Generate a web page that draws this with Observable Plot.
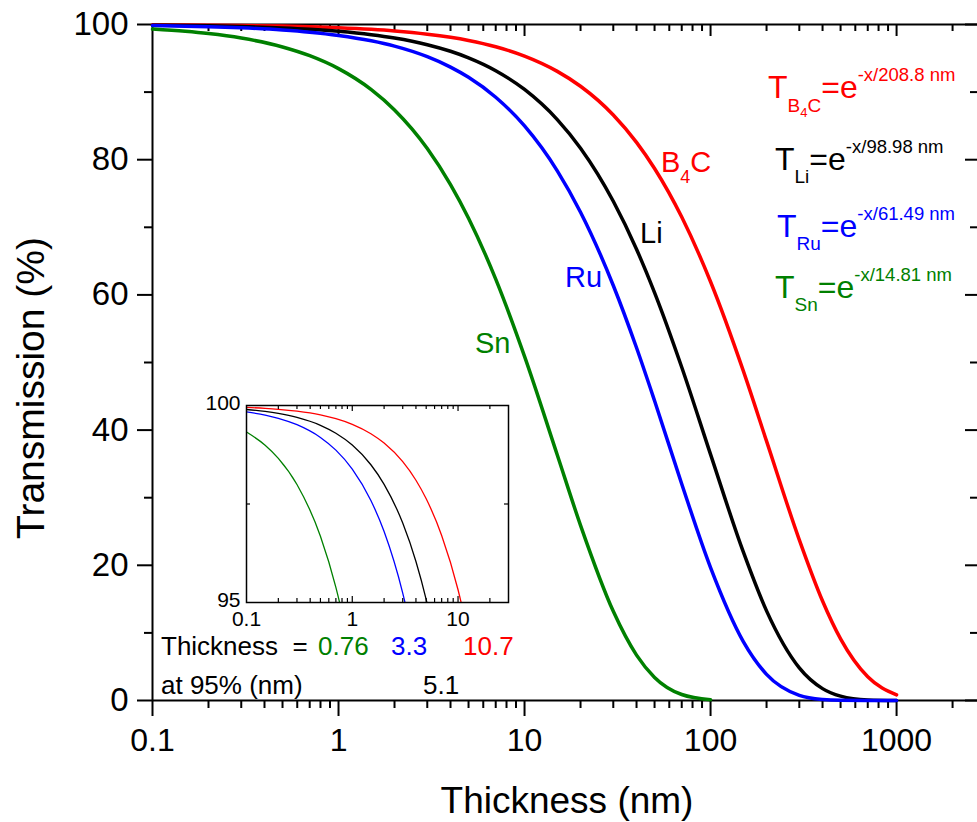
<!DOCTYPE html>
<html><head><meta charset="utf-8">
<script src="https://cdn.jsdelivr.net/npm/d3@7"></script>
<script src="https://cdn.jsdelivr.net/npm/@observablehq/plot@0.6"></script>
<style>
body{margin:0;background:#fff;}
#wrap{position:relative;width:977px;height:822px;overflow:hidden;font-family:"Liberation Sans",Arial,sans-serif;}
#wrap svg{position:absolute;left:0;top:0;}
</style></head><body><div id="wrap"></div>
<script>
// ---- data ----
const thickness = [0.1, 0.15, 0.2, 0.3, 0.5, 0.7, 1, 1.5, 2, 3, 4, 5, 7, 10, 15, 20, 30, 40, 50, 70, 100, 150, 200, 300, 400, 500, 700, 1000];
const tB4C = [99.952, 99.928, 99.904, 99.856, 99.761, 99.665, 99.522, 99.284, 99.047, 98.574, 98.103, 97.633, 96.702, 95.323, 93.067, 90.867, 86.617, 82.566, 78.705, 71.516, 61.946, 48.756, 38.372, 23.770, 14.726, 9.121, 3.500, 0.832];
const tLi  = [99.899, 99.849, 99.798, 99.697, 99.496, 99.295, 98.995, 98.496, 98.000, 97.015, 96.040, 95.074, 93.172, 90.390, 85.938, 81.704, 73.850, 66.756, 60.343, 49.303, 36.412, 21.972, 13.259, 4.828, 1.758, 0.640, 0.085, 0.004];
const tRu  = [99.838, 99.756, 99.675, 99.513, 99.190, 98.868, 98.387, 97.590, 96.800, 95.238, 93.702, 92.190, 89.240, 84.991, 78.353, 72.232, 61.394, 52.177, 44.345, 32.036, 19.668, 8.721, 3.869, 0.761, 0.150, 0.029, 0.001, 0.000];
const tSn  = [99.327, 98.992, 98.659, 97.995, 96.680, 95.383, 93.471, 90.368, 87.368, 81.663, 76.331, 71.351, 62.332, 50.905, 36.320, 25.914, 13.192, 6.715, 3.418, 0.886, 0.117];
const materials = ["B4C", "Li", "Ru", "Sn"];
const colors = ["#ff0000", "#000000", "#0000ff", "#008000"];
const decayLengths = ["208.8", "98.98", "61.49", "14.81"];
const subLabels = [["B","4","C"], ["Li"], ["Ru"], ["Sn"]];
const thick95 = ["10.7", "5.1", "3.3", "0.76"];
const majorX = [0.1, 1, 10, 100, 1000];
const minorX = [0.2,0.3,0.4,0.5,0.6,0.7,0.8,0.9, 2,3,4,5,6,7,8,9, 20,30,40,50,60,70,80,90, 200,300,400,500,600,700,800,900, 2000];
const majorY = [0, 20, 40, 60, 80, 100];
const minorY = [10, 30, 50, 70, 90];
const insetMajorX = [0.1, 1, 10];
const insetMinorX = [0.2,0.3,0.4,0.5,0.6,0.7,0.8,0.9, 2,3,4,5,6,7,8,9, 20];
const insetMajorY = [95, 100];
const insetMinorY = [97.5];

const series = [tB4C, tLi, tRu, tSn];
const rows = [];
materials.forEach((m, i) => series[i].forEach((v, j) => rows.push({material: m, x: thickness[j], t: v})));

const FONT = "Liberation Sans, Arial, sans-serif";
const W = 977, H = 822, mL = 152, mT = 24, mR = 0, mB = 122;
const fW = W - mL - mR, fH = H - mT - mB;

const main = Plot.plot({
  width: W, height: H, marginLeft: mL, marginTop: mT, marginRight: mR, marginBottom: mB,
  style: {fontFamily: FONT, fontSize: "32px", color: "#000", background: "transparent", overflow: "visible"},
  x: {type: "log", domain: [0.1, 2723]},
  y: {domain: [0, 100]},
  color: {domain: materials, range: colors},
  marks: [
    Plot.ruleY([0], {strokeWidth: 2}),
    Plot.ruleY([100], {strokeWidth: 2}),
    Plot.ruleX([0.1], {strokeWidth: 2}),
    Plot.axisX(majorX, {tickSize: 16, tickPadding: 12, strokeWidth: 2, fontSize: 32, tickFormat: d => String(d), label: null}),
    Plot.axisX(minorX, {tickSize: 8, strokeWidth: 2, tickFormat: () => "", label: null}),
    Plot.axisY(majorY, {tickSize: 15, tickPadding: 9, strokeWidth: 2, fontSize: 33, label: null}),
    Plot.axisY(minorY, {tickSize: 8, strokeWidth: 2, tickFormat: () => "", label: null}),
    Plot.ruleX(majorX.slice(1), {strokeWidth: 2, insetBottom: fH - 12}),
    Plot.ruleX(minorX, {strokeWidth: 2, insetBottom: fH - 7}),
    Plot.ruleY(majorY, {strokeWidth: 2, insetLeft: fW - 12}),
    Plot.ruleY(minorY, {strokeWidth: 2, insetLeft: fW - 7}),
    Plot.line(rows, {x: "x", y: "t", z: "material", stroke: "material", strokeWidth: 3.5, curve: "monotone-x"})
  ]
});

const inL = 50, inT = 10, inR = 14, inB = 36, inW = 262, inH = 197;
const inset = Plot.plot({
  width: inL + inW + inR, height: inT + inH + inB, marginLeft: inL, marginTop: inT, marginRight: inR, marginBottom: inB,
  style: {fontFamily: FONT, fontSize: "21px", color: "#000", background: "transparent", overflow: "visible"},
  x: {type: "log", domain: [0.1, 30]},
  y: {domain: [95, 100]},
  color: {domain: materials, range: colors},
  marks: [
    Plot.frame({fill: "white", stroke: null}),
    Plot.line(rows.filter(d => d.x <= 40), {x: "x", y: "t", z: "material", stroke: "material", strokeWidth: 1.3, curve: "monotone-x", clip: true}),
    Plot.frame({strokeWidth: 1.5}),
    Plot.axisX(insetMajorX, {tickSize: 0, tickPadding: 9, fontSize: 21, tickFormat: d => String(d), label: null}),
    Plot.axisY(insetMajorY, {tickSize: 0, tickPadding: 6, fontSize: 21, label: null, dy: -2}),
    Plot.ruleX(insetMajorX.slice(1), {insetTop: inH - 6, strokeWidth: 1.2}),
    Plot.ruleX(insetMinorX, {insetTop: inH - 4, strokeWidth: 1.2}),
    Plot.ruleX(insetMajorX.slice(1), {insetBottom: inH - 6, strokeWidth: 1.2}),
    Plot.ruleX(insetMinorX, {insetBottom: inH - 4, strokeWidth: 1.2}),
    Plot.ruleY(insetMinorY, {insetRight: inW - 4, strokeWidth: 1.2}),
    Plot.ruleY(insetMinorY, {insetLeft: inW - 4, strokeWidth: 1.2})
  ]
});

const wrap = document.getElementById("wrap");
wrap.appendChild(main);
wrap.appendChild(inset);
inset.style.left = (246 - inL) + "px";
inset.style.top = (405 - inT) + "px";

// ---- annotations ----
const svg = d3.select(main);
function addText(x, y, fill, parts, anchor) {
  const t = svg.append("text").attr("x", x).attr("y", y).attr("fill", fill)
    .attr("font-family", FONT).attr("text-anchor", anchor || "start");
  parts.forEach(p => t.append("tspan").attr("font-size", p[1]).attr("dy", p[2] || 0).text(p[0]));
  return t;
}
// axis titles
addText(567, 813, "#000", [["Thickness (nm)", 37]], "middle");
addText(44, 388, "#000", [["Transmission (%)", 39]], "middle").attr("transform", "rotate(-90 44 388)");

// curve labels
addText(661, 172, colors[0], [["B", 29], ["4", 18, 11], ["C", 29, -11]]);
addText(640, 243, colors[1], [["Li", 29]]);
addText(565, 287, colors[2], [["Ru", 29]]);
addText(475, 353, colors[3], [["Sn", 29]]);

// formulas
const fPos = [[768, 98], [775, 170], [777, 237], [775, 298]];
materials.forEach((m, i) => {
  const parts = [["T", 32]];
  const sub = subLabels[i];
  if (sub.length === 3) {
    parts.push([sub[0], 19, 14], [sub[1], 13, 5], [sub[2], 19, -5], ["=e", 32, -14]);
  } else {
    parts.push([sub[0], 19, 13], ["=e", 32, -13]);
  }
  parts.push(["-x/" + decayLengths[i] + " nm", 18.5, -17]);
  addText(fPos[i][0], fPos[i][1], colors[i], parts);
});

// thickness at 95%
addText(161, 655, "#000", [["Thickness  =", 26]]).style("white-space", "pre");
addText(318, 655, colors[3], [[thick95[3], 26]]);
addText(391, 655, colors[2], [[thick95[2], 26]]);
addText(463, 655, colors[0], [[thick95[0], 26]]);
addText(161, 694, "#000", [["at 95% (nm)", 26]]);
addText(423, 694, colors[1], [[thick95[1], 26]]);
</script></body></html>
